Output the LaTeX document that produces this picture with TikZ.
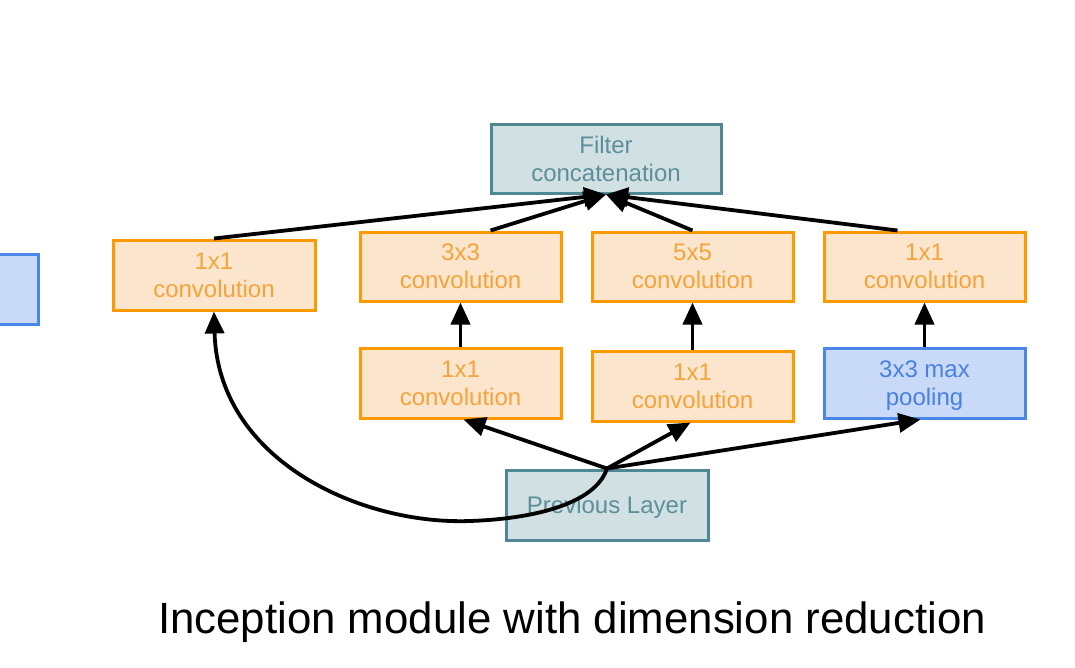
\documentclass[tikz,border=0pt]{standalone}
\usepackage{fontspec}
\setmainfont{Liberation Sans}
\usetikzlibrary{arrows.meta}
\definecolor{orfill}{HTML}{FCE5CD}
\definecolor{ordraw}{HTML}{FF9900}
\definecolor{ortext}{HTML}{F4A43A}
\definecolor{blfill}{HTML}{C9DAF8}
\definecolor{bldraw}{HTML}{4A86E8}
\definecolor{bltext}{HTML}{4A80E2}
\definecolor{tlfill}{HTML}{D0E0E3}
\definecolor{tldraw}{HTML}{4F8793}
\definecolor{tltext}{HTML}{5D8F9A}
\begin{document}
\begin{tikzpicture}[x=1pt,y=-1pt,
  box/.style={rectangle, inner sep=0pt, line width=3pt, align=center,
    minimum width=201pt, minimum height=69pt, text depth=0pt,
    font=\fontsize{24}{28}\selectfont},
  conv/.style={box, fill=orfill, draw=ordraw, text=ortext},
  pool/.style={box, fill=blfill, draw=bldraw, text=bltext},
  teal/.style={box, fill=tlfill, draw=tldraw, text=tltext},
  arr/.style={line width=3.8pt, -{Triangle[length=22pt,width=19pt]}}]
\useasboundingbox (0,0) rectangle (1075,667);

% nodes
\node[pool, minimum width=58pt, minimum height=70pt] (cut) at (9,289) {};
\node[teal, minimum width=230pt] (concat) at (606,158.5) {Filter\\concatenation};
\node[conv, minimum width=202pt, minimum height=70pt] (c1) at (214,275) {1x1\\convolution};
\node[conv] (c3) at (460.5,266.5) {3x3\\convolution};
\node[conv] (c5) at (692.5,266.5) {5x5\\convolution};
\node[conv] (cp) at (924.5,266.5) {1x1\\convolution};
\node[conv, minimum height=70pt] (r3) at (460.5,383) {1x1\\convolution};
\node[conv, minimum height=70pt] (r5) at (692.5,386) {1x1\\convolution};
\node[pool, minimum height=70pt] (mp) at (924.5,383) {3x3 max\\pooling};
\node[teal, minimum width=202pt, minimum height=70pt] (prev) at (607,505) {Previous Layer};
\coordinate (hub) at (prev.north);

% arrows into concatenation
\draw[arr] (c1.north) -- (concat.south);
\draw[arr] ([xshift=30pt]c3.north) -- (concat.south);
\draw[arr] (c5.north) -- (concat.south);
\draw[arr] ([xshift=-27pt]cp.north) -- (concat.south);

% vertical arrows
\draw[arr] (r3.north) -- (c3.south);
\draw[arr] (r5.north) -- (c5.south);
\draw[arr] (mp.north) -- (cp.south);

% arrows from previous layer
\draw[arr] (hub) -- ([xshift=3pt]r3.south);
\draw[arr] (hub) -- ([xshift=-2pt]r5.south);
\draw[arr] (hub) -- ([xshift=-4pt]mp.south);
\draw[arr] (hub) .. controls (595,505) and (530,519) .. (470,521)
  .. controls (360,525) and (218,460) .. (c1.south);

% caption
\node[anchor=base, font=\fontsize{43.8}{50}\selectfont] (cap) at (572,633)
  {Inception module with dimension reduction};
\end{tikzpicture}
\end{document}
